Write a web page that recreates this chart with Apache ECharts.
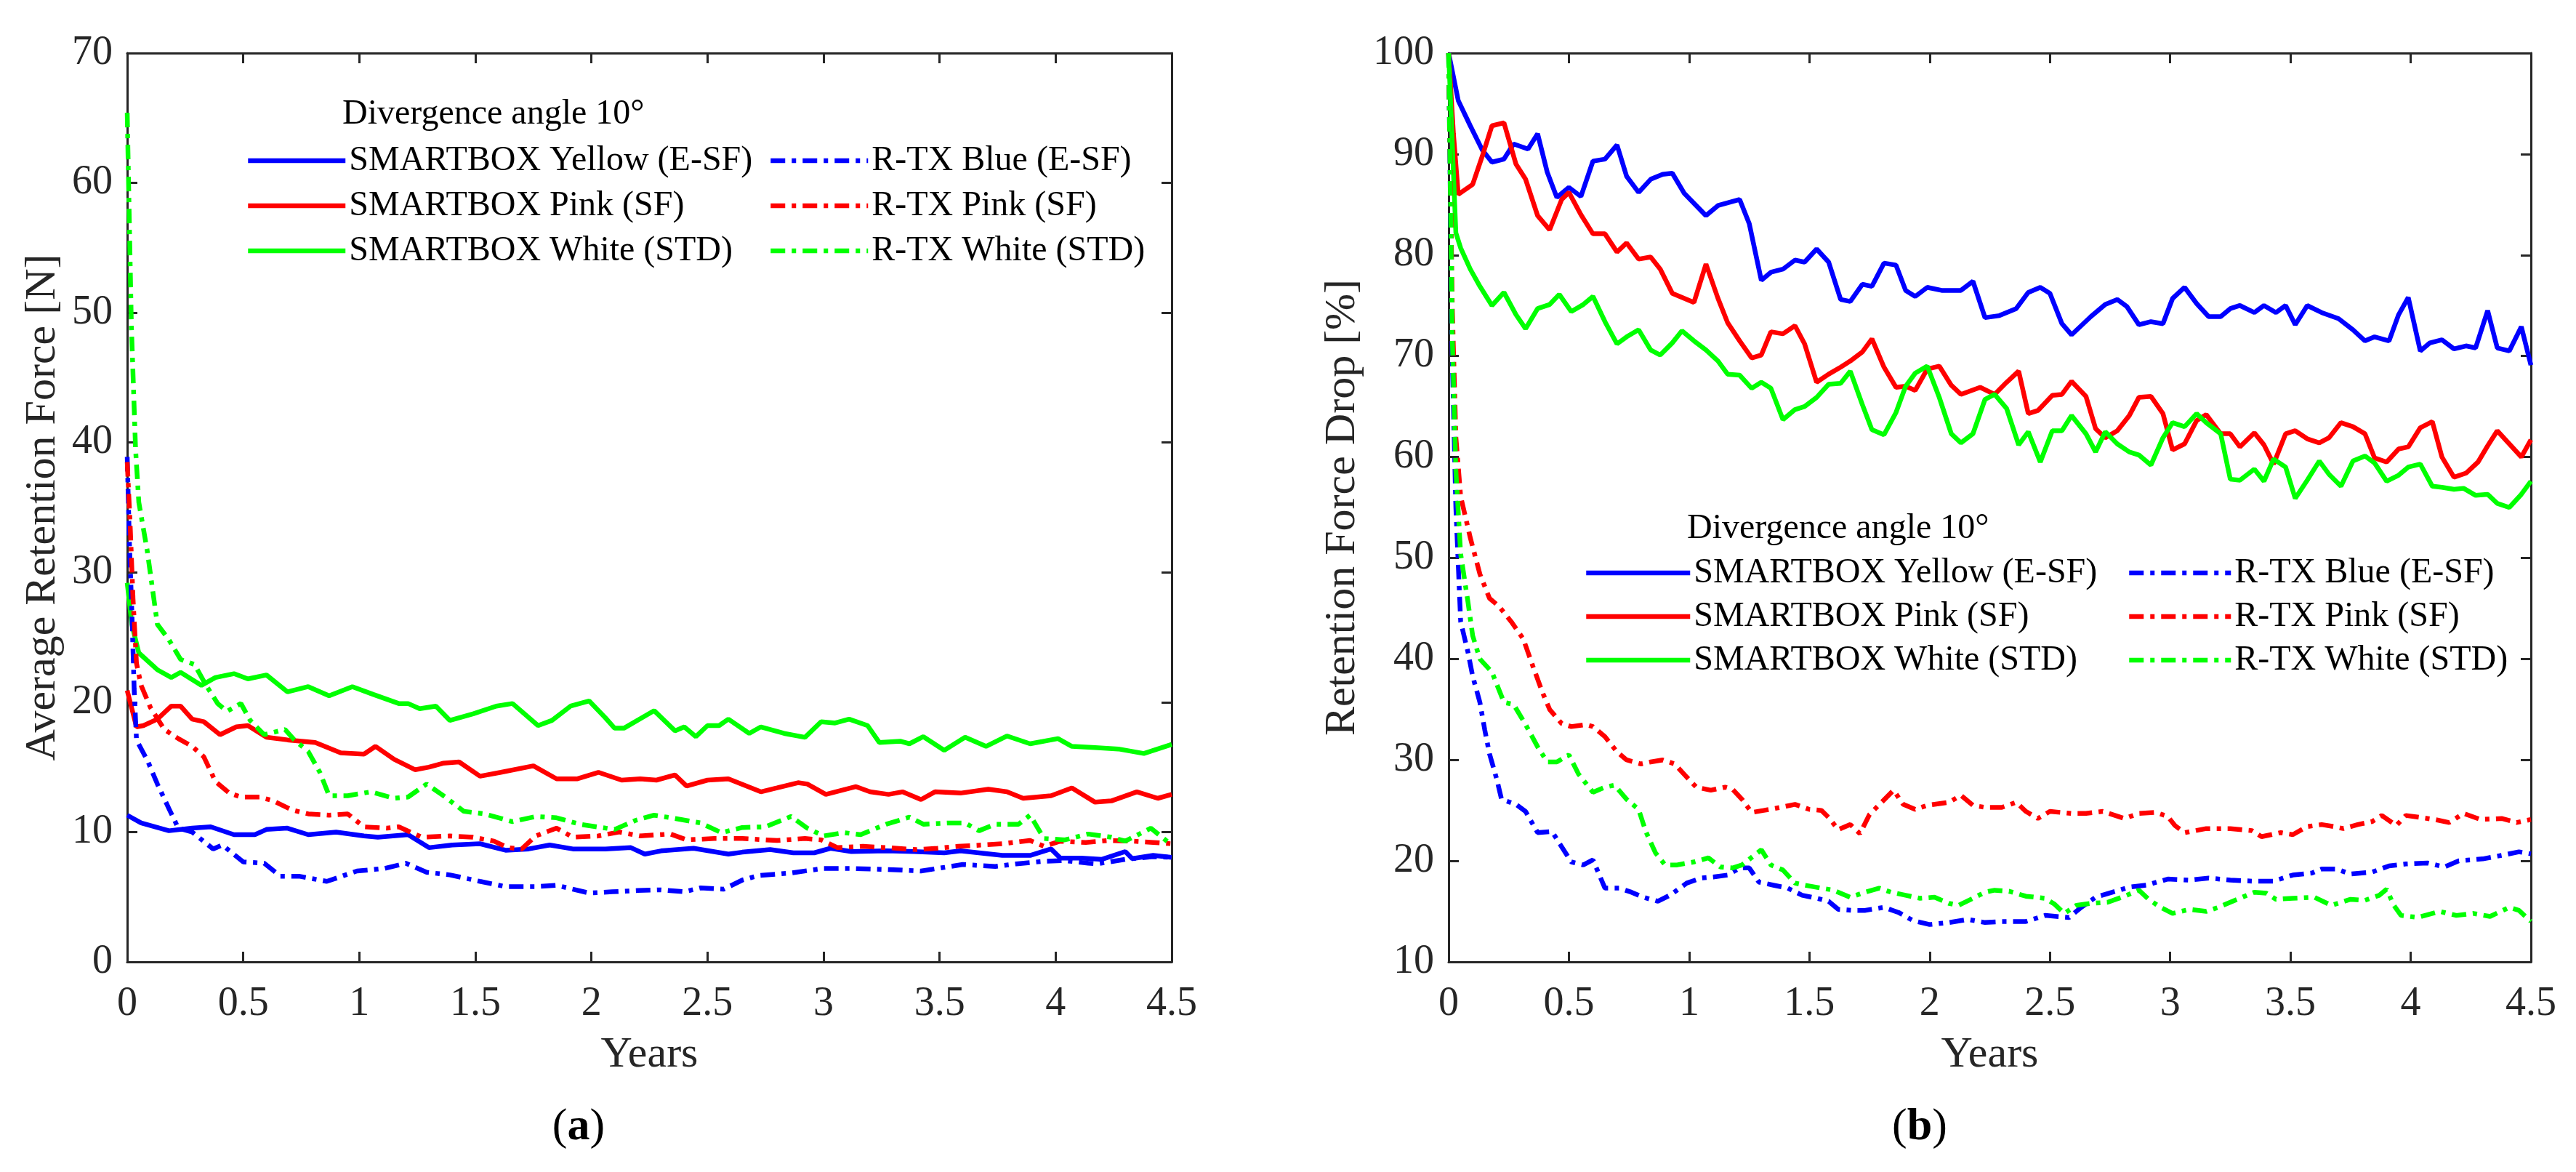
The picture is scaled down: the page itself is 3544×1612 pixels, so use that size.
<!DOCTYPE html>
<html>
<head>
<meta charset="utf-8">
<title>Retention force</title>
<script src="https://cdn.jsdelivr.net/npm/echarts@6/dist/echarts.min.js"></script>
<style>
  html, body { margin: 0; padding: 0; background: #fff; }
  #chart { width: 3544px; height: 1612px; }
</style>
</head>
<body>
<div id="chart"></div>
<script>
// year ticks shared by both panels
const yearTicks = [0, 0.5, 1, 1.5, 2, 2.5, 3, 3.5, 4, 4.5]

const seriesNames = [
  'SMARTBOX Yellow (E-SF)', 'SMARTBOX Pink (SF)', 'SMARTBOX White (STD)',
  'R-TX Blue (E-SF)', 'R-TX Pink (SF)', 'R-TX White (STD)'
]

// (a) average retention force [N], pairs of [years, value]
const smYellowA = [[0,11.3],[0.06,10.7],[0.18,10.1],[0.28,10.3],[0.36,10.4],[0.46,9.8],[0.55,9.8],[0.6,10.2],[0.69,10.3],[0.78,9.8],[0.9,10.0],[1.02,9.7],[1.08,9.6],[1.21,9.8],[1.3,8.8],[1.4,9.0],[1.52,9.1],[1.63,8.6],[1.73,8.7],[1.82,9.0],[1.92,8.7],[2.06,8.7],[2.17,8.8],[2.23,8.3],[2.3,8.55],[2.44,8.75],[2.59,8.3],[2.65,8.45],[2.77,8.65],[2.87,8.4],[2.96,8.4],[3.03,8.75],[3.12,8.5],[3.27,8.55],[3.39,8.5],[3.52,8.4],[3.59,8.55],[3.77,8.2],[3.89,8.2],[3.98,8.7],[4.02,8.0],[4.11,8.0],[4.2,7.9],[4.3,8.5],[4.33,7.95],[4.42,8.2],[4.5,8.05]]
const smPinkA = [[0,20.9],[0.04,18.1],[0.07,18.2],[0.13,18.7],[0.19,19.7],[0.23,19.7],[0.28,18.7],[0.33,18.5],[0.4,17.5],[0.47,18.1],[0.52,18.2],[0.6,17.3],[0.69,17.1],[0.81,16.9],[0.92,16.1],[1.02,16.0],[1.07,16.6],[1.15,15.6],[1.24,14.8],[1.3,15.0],[1.36,15.3],[1.43,15.4],[1.52,14.3],[1.61,14.6],[1.75,15.1],[1.85,14.1],[1.94,14.1],[2.03,14.6],[2.13,14.0],[2.21,14.1],[2.28,14.0],[2.36,14.4],[2.41,13.55],[2.5,14.0],[2.59,14.1],[2.73,13.1],[2.8,13.4],[2.89,13.8],[2.93,13.7],[3.01,12.9],[3.14,13.5],[3.2,13.1],[3.28,12.9],[3.34,13.1],[3.42,12.5],[3.48,13.1],[3.59,13.0],[3.71,13.3],[3.79,13.1],[3.86,12.6],[3.98,12.8],[4.07,13.4],[4.17,12.3],[4.24,12.4],[4.35,13.1],[4.44,12.6],[4.5,12.9]]
const smWhiteA = [[0,29.2],[0.02,26],[0.05,23.8],[0.13,22.5],[0.19,21.9],[0.23,22.3],[0.32,21.3],[0.38,21.9],[0.46,22.2],[0.52,21.8],[0.6,22.1],[0.69,20.8],[0.78,21.2],[0.87,20.5],[0.97,21.2],[1.06,20.6],[1.17,19.9],[1.21,19.9],[1.26,19.5],[1.33,19.7],[1.39,18.6],[1.49,19.1],[1.59,19.7],[1.66,19.9],[1.77,18.2],[1.83,18.6],[1.91,19.7],[1.99,20.1],[2.06,18.8],[2.1,18.0],[2.14,18.0],[2.27,19.35],[2.36,17.8],[2.4,18.1],[2.45,17.35],[2.5,18.2],[2.55,18.2],[2.59,18.7],[2.68,17.6],[2.73,18.1],[2.83,17.6],[2.92,17.3],[2.99,18.5],[3.05,18.4],[3.11,18.7],[3.19,18.2],[3.24,16.9],[3.33,17.0],[3.37,16.8],[3.43,17.35],[3.52,16.3],[3.61,17.3],[3.7,16.6],[3.79,17.4],[3.89,16.8],[4.01,17.2],[4.07,16.6],[4.17,16.5],[4.27,16.4],[4.38,16.05],[4.5,16.75]]
const rtxBlueA = [[0,38.9],[0.01,32],[0.02,27],[0.03,21],[0.04,17.1],[0.09,15.4],[0.13,13.7],[0.18,11.8],[0.22,10.3],[0.28,10.0],[0.37,8.7],[0.41,9.0],[0.5,7.7],[0.59,7.6],[0.66,6.6],[0.74,6.6],[0.86,6.2],[0.99,7.0],[1.11,7.2],[1.2,7.6],[1.29,6.9],[1.39,6.7],[1.52,6.2],[1.63,5.8],[1.76,5.8],[1.85,5.9],[1.99,5.3],[2.09,5.4],[2.2,5.5],[2.3,5.55],[2.4,5.4],[2.47,5.7],[2.57,5.6],[2.65,6.3],[2.72,6.65],[2.86,6.85],[3.0,7.2],[3.12,7.2],[3.3,7.1],[3.42,7.0],[3.51,7.25],[3.6,7.5],[3.74,7.35],[3.83,7.55],[3.95,7.75],[4.04,7.8],[4.14,7.6],[4.18,7.55],[4.3,7.9],[4.42,8.1],[4.5,8.05]]
const rtxPinkA = [[0,38.5],[0.012,34],[0.025,28],[0.04,23],[0.06,21.3],[0.1,19.6],[0.16,17.9],[0.22,17.2],[0.28,16.6],[0.33,15.8],[0.38,13.9],[0.44,13.0],[0.49,12.7],[0.57,12.7],[0.63,12.4],[0.71,11.7],[0.78,11.4],[0.87,11.3],[0.95,11.4],[1.02,10.4],[1.12,10.3],[1.17,10.4],[1.27,9.6],[1.39,9.7],[1.49,9.6],[1.58,9.3],[1.64,8.8],[1.7,8.7],[1.76,9.7],[1.85,10.3],[1.92,9.6],[2.03,9.7],[2.12,10.0],[2.21,9.7],[2.34,9.85],[2.41,9.4],[2.53,9.5],[2.65,9.5],[2.8,9.35],[2.92,9.5],[2.99,9.4],[3.06,8.8],[3.17,8.9],[3.27,8.8],[3.4,8.65],[3.49,8.75],[3.58,8.9],[3.68,9.0],[3.77,9.1],[3.89,9.35],[3.95,8.9],[4.02,9.3],[4.13,9.2],[4.23,9.35],[4.33,9.3],[4.42,9.2],[4.5,9.1]]
const rtxWhiteA = [[0,65.4],[0.018,49],[0.036,39.5],[0.05,35.4],[0.086,31.7],[0.13,26.0],[0.18,24.8],[0.23,23.3],[0.29,22.9],[0.34,21.3],[0.39,19.9],[0.43,19.3],[0.49,19.9],[0.53,18.6],[0.59,17.5],[0.68,17.9],[0.72,17.1],[0.78,16.2],[0.83,14.6],[0.87,12.8],[0.95,12.8],[1.05,13.1],[1.15,12.6],[1.21,12.7],[1.29,13.7],[1.37,12.7],[1.45,11.6],[1.54,11.4],[1.66,10.8],[1.76,11.2],[1.85,11.1],[1.95,10.6],[2.1,10.2],[2.19,10.9],[2.27,11.3],[2.36,11.05],[2.47,10.7],[2.56,9.95],[2.65,10.35],[2.75,10.4],[2.86,11.2],[2.93,10.3],[3.0,9.7],[3.09,9.95],[3.16,9.8],[3.27,10.6],[3.37,11.15],[3.43,10.6],[3.54,10.7],[3.61,10.7],[3.67,10.1],[3.74,10.6],[3.84,10.6],[3.89,11.3],[3.95,9.5],[4.04,9.4],[4.14,9.85],[4.24,9.6],[4.3,9.3],[4.41,10.3],[4.5,9.0]]

// (b) retention force drop [%]
const smYellowB = [[0,100],[0.04,95.3],[0.09,92.8],[0.14,90.4],[0.18,89.2],[0.23,89.5],[0.27,91.0],[0.33,90.5],[0.37,92.0],[0.41,88.2],[0.45,85.7],[0.5,86.7],[0.55,85.8],[0.6,89.3],[0.65,89.5],[0.7,90.9],[0.74,87.8],[0.79,86.2],[0.84,87.5],[0.89,88.0],[0.93,88.1],[0.98,86.1],[1.07,83.9],[1.12,84.9],[1.21,85.5],[1.25,83.1],[1.3,77.5],[1.34,78.3],[1.39,78.6],[1.44,79.5],[1.48,79.3],[1.53,80.6],[1.58,79.3],[1.63,75.6],[1.67,75.4],[1.72,77.1],[1.76,76.9],[1.81,79.2],[1.86,79.0],[1.9,76.5],[1.94,75.9],[1.99,76.8],[2.05,76.5],[2.13,76.5],[2.18,77.4],[2.23,73.8],[2.29,74.0],[2.36,74.7],[2.41,76.3],[2.46,76.8],[2.5,76.2],[2.55,73.2],[2.59,72.1],[2.67,73.9],[2.73,75.1],[2.78,75.6],[2.82,74.9],[2.87,73.1],[2.92,73.4],[2.97,73.2],[3.01,75.7],[3.06,76.8],[3.11,75.2],[3.16,73.9],[3.21,73.9],[3.25,74.7],[3.29,75.0],[3.35,74.3],[3.39,75.0],[3.44,74.3],[3.48,75.0],[3.52,73.1],[3.57,75.0],[3.63,74.3],[3.7,73.7],[3.76,72.6],[3.81,71.5],[3.85,71.9],[3.91,71.5],[3.95,74.1],[3.99,75.8],[4.04,70.5],[4.08,71.3],[4.13,71.6],[4.18,70.7],[4.23,71.0],[4.27,70.8],[4.32,74.5],[4.36,70.8],[4.41,70.5],[4.46,72.9],[4.5,69.1]]
const smPinkB = [[0,100],[0.02,92],[0.04,86.0],[0.1,87.0],[0.14,89.8],[0.18,92.8],[0.23,93.1],[0.28,89.0],[0.32,87.5],[0.37,83.9],[0.42,82.5],[0.47,85.5],[0.5,86.2],[0.55,84.0],[0.6,82.1],[0.65,82.1],[0.7,80.3],[0.74,81.2],[0.79,79.6],[0.84,79.8],[0.88,78.6],[0.93,76.2],[1.02,75.3],[1.07,79.1],[1.12,75.7],[1.16,73.3],[1.21,71.5],[1.26,69.8],[1.3,70.1],[1.34,72.4],[1.39,72.2],[1.44,73.0],[1.48,71.2],[1.53,67.4],[1.58,68.2],[1.63,68.9],[1.67,69.5],[1.72,70.4],[1.76,71.7],[1.81,68.9],[1.86,66.9],[1.9,67.0],[1.94,66.6],[1.99,68.7],[2.04,69.0],[2.09,67.1],[2.13,66.2],[2.21,66.9],[2.27,66.2],[2.32,67.4],[2.37,68.5],[2.41,64.3],[2.45,64.6],[2.51,66.1],[2.55,66.2],[2.59,67.5],[2.65,66.0],[2.69,62.8],[2.73,61.9],[2.78,62.6],[2.83,64.1],[2.87,65.9],[2.92,66.0],[2.97,64.3],[3.01,60.7],[3.06,61.3],[3.11,63.6],[3.15,64.2],[3.21,62.3],[3.25,62.3],[3.29,61.0],[3.35,62.4],[3.39,61.2],[3.43,59.3],[3.48,62.3],[3.52,62.6],[3.57,61.8],[3.62,61.4],[3.66,61.9],[3.71,63.4],[3.76,63.0],[3.81,62.3],[3.85,59.9],[3.9,59.5],[3.95,60.8],[3.99,61.0],[4.04,62.9],[4.09,63.5],[4.13,60.0],[4.18,58.0],[4.23,58.4],[4.28,59.5],[4.32,61.1],[4.36,62.6],[4.41,61.3],[4.46,60.0],[4.5,61.7]]
const smWhiteB = [[0,100],[0.03,82.2],[0.05,80.7],[0.09,78.6],[0.13,76.9],[0.18,75.0],[0.23,76.3],[0.28,74.1],[0.32,72.7],[0.37,74.7],[0.42,75.1],[0.46,76.1],[0.51,74.4],[0.56,75.1],[0.6,75.9],[0.65,73.4],[0.7,71.2],[0.74,71.9],[0.79,72.6],[0.84,70.6],[0.88,70.1],[0.93,71.3],[0.97,72.5],[1.02,71.5],[1.07,70.6],[1.12,69.5],[1.16,68.2],[1.21,68.1],[1.26,66.8],[1.3,67.4],[1.34,66.8],[1.39,63.7],[1.44,64.7],[1.48,65.0],[1.53,65.9],[1.58,67.2],[1.63,67.3],[1.67,68.5],[1.72,65.2],[1.76,62.7],[1.81,62.2],[1.86,64.4],[1.9,67.0],[1.94,68.3],[1.99,69.0],[2.04,65.9],[2.09,62.3],[2.13,61.4],[2.18,62.3],[2.23,65.7],[2.27,66.2],[2.32,64.8],[2.37,61.2],[2.41,62.5],[2.46,59.5],[2.51,62.6],[2.55,62.6],[2.59,64.1],[2.65,62.3],[2.69,60.5],[2.73,62.5],[2.78,61.3],[2.83,60.5],[2.87,60.2],[2.92,59.2],[2.97,61.9],[3.01,63.4],[3.06,63.0],[3.11,64.3],[3.15,63.4],[3.21,62.3],[3.25,57.8],[3.29,57.7],[3.35,58.8],[3.39,57.6],[3.43,59.8],[3.48,59.0],[3.52,55.9],[3.57,57.7],[3.62,59.6],[3.66,58.3],[3.71,57.1],[3.76,59.6],[3.81,60.1],[3.85,59.4],[3.9,57.6],[3.95,58.2],[3.99,59.0],[4.04,59.3],[4.09,57.1],[4.13,57.0],[4.18,56.8],[4.22,56.9],[4.27,56.2],[4.32,56.3],[4.36,55.4],[4.41,55.0],[4.46,56.3],[4.5,57.6]]
const rtxBlueB = [[0,100],[0.015,70],[0.03,55],[0.05,43.7],[0.08,40.7],[0.1,38.3],[0.13,35.7],[0.15,33.0],[0.17,30.6],[0.2,28.1],[0.22,26.1],[0.28,25.6],[0.32,24.9],[0.37,22.8],[0.43,22.9],[0.47,21.4],[0.51,19.9],[0.56,19.6],[0.6,20.1],[0.65,17.3],[0.71,17.3],[0.76,16.9],[0.81,16.4],[0.87,16.0],[0.92,16.6],[0.99,17.8],[1.05,18.3],[1.1,18.4],[1.16,18.6],[1.21,19.3],[1.25,19.3],[1.29,17.9],[1.35,17.6],[1.41,17.3],[1.47,16.6],[1.53,16.3],[1.58,16.0],[1.62,15.2],[1.68,15.1],[1.73,15.1],[1.81,15.4],[1.87,14.9],[1.93,14.1],[2.0,13.7],[2.08,13.9],[2.16,14.2],[2.23,13.9],[2.3,14.0],[2.4,14.0],[2.48,14.6],[2.58,14.4],[2.63,15.4],[2.69,16.4],[2.76,16.9],[2.83,17.4],[2.9,17.6],[2.99,18.2],[3.08,18.1],[3.16,18.3],[3.25,18.1],[3.34,18.0],[3.43,18.0],[3.51,18.6],[3.59,18.8],[3.63,19.2],[3.69,19.2],[3.75,18.7],[3.84,18.9],[3.91,19.5],[3.98,19.7],[4.07,19.8],[4.14,19.4],[4.2,20.0],[4.3,20.2],[4.39,20.6],[4.45,20.9],[4.5,20.7]]
const rtxPinkB = [[0,100],[0.015,75],[0.03,62],[0.05,56.1],[0.09,52.0],[0.13,48.4],[0.17,46.0],[0.21,45.2],[0.26,43.7],[0.31,42.0],[0.35,39.3],[0.39,36.7],[0.42,35.0],[0.47,33.6],[0.51,33.3],[0.57,33.5],[0.6,33.3],[0.65,32.3],[0.7,30.8],[0.74,30.0],[0.8,29.6],[0.84,29.8],[0.89,30.0],[0.94,29.6],[0.99,28.3],[1.03,27.3],[1.09,27.0],[1.15,27.3],[1.18,27.1],[1.22,26.1],[1.26,24.8],[1.31,25.0],[1.38,25.3],[1.44,25.6],[1.5,25.1],[1.55,25.0],[1.58,24.3],[1.62,23.1],[1.67,23.6],[1.71,22.7],[1.75,24.6],[1.8,25.8],[1.85,27.0],[1.89,25.6],[1.94,25.1],[1.99,25.5],[2.08,25.8],[2.13,26.5],[2.18,25.5],[2.23,25.3],[2.3,25.3],[2.36,25.8],[2.4,24.9],[2.45,24.2],[2.5,24.9],[2.59,24.7],[2.65,24.7],[2.72,24.9],[2.81,24.2],[2.87,24.7],[2.94,24.8],[2.99,24.4],[3.02,23.5],[3.06,22.8],[3.15,23.2],[3.25,23.2],[3.34,23.0],[3.38,22.4],[3.46,22.8],[3.51,22.6],[3.57,23.4],[3.63,23.6],[3.68,23.4],[3.72,23.2],[3.78,23.6],[3.84,23.9],[3.88,24.5],[3.94,23.5],[3.98,24.5],[4.04,24.3],[4.1,24.1],[4.16,23.8],[4.22,24.7],[4.29,24.1],[4.38,24.2],[4.44,23.8],[4.5,24.1]]
const rtxWhiteB = [[0,100],[0.015,72],[0.03,58.7],[0.05,50.4],[0.08,45.7],[0.1,42.3],[0.13,40.0],[0.18,38.7],[0.23,35.7],[0.27,35.5],[0.32,33.5],[0.37,31.3],[0.41,29.8],[0.45,29.8],[0.5,30.5],[0.54,28.6],[0.6,26.8],[0.65,27.3],[0.69,27.5],[0.74,26.1],[0.79,25.1],[0.82,22.9],[0.86,20.8],[0.9,19.6],[0.95,19.6],[1.02,19.9],[1.08,20.3],[1.13,19.4],[1.18,19.3],[1.22,19.6],[1.3,21.1],[1.34,19.6],[1.39,19.1],[1.44,17.8],[1.48,17.6],[1.55,17.3],[1.6,17.1],[1.67,16.4],[1.73,16.9],[1.79,17.3],[1.84,16.9],[1.9,16.6],[1.96,16.3],[2.02,16.4],[2.08,15.8],[2.12,15.6],[2.18,16.3],[2.23,16.9],[2.27,17.1],[2.33,17.0],[2.4,16.5],[2.48,16.3],[2.52,15.7],[2.56,14.8],[2.61,15.6],[2.67,15.8],[2.74,15.9],[2.81,16.5],[2.87,17.1],[2.91,16.2],[2.96,15.4],[3.01,14.8],[3.08,15.2],[3.15,15.0],[3.2,15.4],[3.29,16.3],[3.35,16.9],[3.4,16.8],[3.44,16.2],[3.51,16.3],[3.6,16.4],[3.67,15.6],[3.75,16.2],[3.81,16.1],[3.87,16.6],[3.9,17.2],[3.93,15.6],[3.96,14.6],[4.03,14.4],[4.12,15.0],[4.19,14.6],[4.26,14.8],[4.33,14.5],[4.41,15.4],[4.45,15.1],[4.5,14.0]]

const FONT = '"Liberation Serif", "Times New Roman", serif'
const AXIS_COLOR = '#262626'
const colors = ['#0000ff', '#ff0000', '#00ff00', '#0000ff', '#ff0000', '#00ff00']
const dashDot = [20, 9, 6, 9]

const chart = echarts.init(document.getElementById('chart'), null, { renderer: 'canvas' })

const xAxis = (gridIndex, onTop) => ({
  type: 'value',
  gridIndex,
  position: onTop ? 'top' : 'bottom',
  min: yearTicks[0],
  max: yearTicks[yearTicks.length - 1],
  interval: 0.5,
  name: onTop ? '' : 'Years',
  nameLocation: 'middle',
  nameGap: 98,
  nameTextStyle: { fontFamily: FONT, fontSize: 60, color: AXIS_COLOR },
  axisLine: { show: true, onZero: false, lineStyle: { color: AXIS_COLOR, width: 3 } },
  axisTick: { show: true, inside: true, length: 14, lineStyle: { color: AXIS_COLOR, width: 3 } },
  axisLabel: { show: !onTop, margin: 30, fontFamily: FONT, fontSize: 56, color: AXIS_COLOR },
  splitLine: { show: false }
})

const yAxis = (gridIndex, onRight, min, max, name, nameGap) => ({
  type: 'value',
  gridIndex,
  position: onRight ? 'right' : 'left',
  min,
  max,
  interval: 10,
  name: onRight ? '' : name,
  nameLocation: 'middle',
  nameGap,
  nameTextStyle: { fontFamily: FONT, fontSize: 60, color: AXIS_COLOR },
  axisLine: { show: true, onZero: false, lineStyle: { color: AXIS_COLOR, width: 3 } },
  axisTick: { show: true, inside: true, length: 14, lineStyle: { color: AXIS_COLOR, width: 3 } },
  axisLabel: { show: !onRight, margin: 20, fontFamily: FONT, fontSize: 56, color: AXIS_COLOR },
  splitLine: { show: false }
})

const panelA = [smYellowA, smPinkA, smWhiteA, rtxBlueA, rtxPinkA, rtxWhiteA]
const panelB = [smYellowB, smPinkB, smWhiteB, rtxBlueB, rtxPinkB, rtxWhiteB]

const makeSeries = (data, i, axisIndex) => ({
  name: seriesNames[i],
  type: 'line',
  xAxisIndex: axisIndex,
  yAxisIndex: axisIndex,
  data,
  symbol: 'none',
  clip: true,
  lineStyle: { color: colors[i], width: 6.5, type: i < 3 ? 'solid' : dashDot },
  itemStyle: { color: colors[i] },
  emphasis: { disabled: true }
})

const legend = (names, left, top, itemWidth, lineHeight) => ({
  orient: 'vertical',
  left,
  top,
  data: names,
  itemWidth,
  itemHeight: 14,
  itemGap: 0,
  selectedMode: false,
  itemStyle: { opacity: 0 },
  lineStyle: { width: 6.5 },
  textStyle: { fontFamily: FONT, fontSize: 48, color: '#000', lineHeight }
})

const titleText = (text, left, top) => ({
  text,
  left,
  top,
  textStyle: { fontFamily: FONT, fontSize: 48, fontWeight: 'normal', color: '#000', lineHeight: 60 }
})

const caption = (letter, left) => ({
  text: '{p|(}{b|' + letter + '}{p|)}',
  left,
  top: 1515,
  textAlign: 'center',
  textStyle: {
    rich: {
      p: { fontFamily: FONT, fontSize: 62, fontWeight: 'normal', color: '#000' },
      b: { fontFamily: FONT, fontSize: 62, fontWeight: 'bold', color: '#000' }
    }
  }
})

const option = {
  animation: false,
  backgroundColor: '#fff',
  title: [
    titleText('Divergence angle 10°', 466, 122),
    titleText('Divergence angle 10°', 2316, 692),
    caption('a', 791),
    caption('b', 2636)
  ],
  legend: [
    legend(seriesNames.slice(0, 3), 333, 185, 134, 62),
    legend(seriesNames.slice(3), 1052, 185, 134, 62),
    legend(seriesNames.slice(0, 3), 2174, 753, 143, 60),
    legend(seriesNames.slice(3), 2921, 753, 140, 60)
  ],
  grid: [
    { left: 175, top: 73, width: 1437, height: 1250, containLabel: false },
    { left: 1993, top: 73, width: 1489, height: 1250, containLabel: false }
  ],
  xAxis: [xAxis(0, false), xAxis(1, false), xAxis(0, true), xAxis(1, true)],
  yAxis: [
    yAxis(0, false, 0, 70, 'Average Retention Force [N]', 86),
    yAxis(1, false, 10, 100, 'Retention Force Drop [%]', 116),
    yAxis(0, true, 0, 70, '', 0),
    yAxis(1, true, 10, 100, '', 0)
  ],
  series: [
    ...panelA.map((d, i) => makeSeries(d, i, 0)),
    ...panelB.map((d, i) => makeSeries(d, i, 1))
  ]
}

chart.setOption(option)
window.addEventListener('resize', () => chart.resize())
</script>
</body>
</html>
